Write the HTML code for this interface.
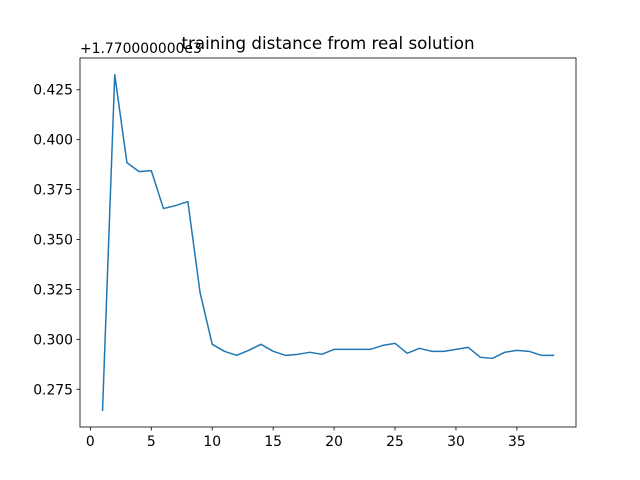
<!DOCTYPE html>
<html><head><meta charset="utf-8"><style>
body{margin:0;background:#fff;}
svg{display:block;font-family:"DejaVu Sans","Liberation Sans",sans-serif;}
</style></head><body>
<svg id="c" width="640" height="480"></svg>
<script>
const xs = [1,2,3,4,5,6,7,8,9,10,11,12,13,14,15,16,17,18,19,20,21,22,23,24,25,26,27,28,29,30,31,32,33,34,35,36,37,38];
const ys = [0.2645,0.4325,0.3885,0.384,0.3845,0.3655,0.367,0.369,0.3235,0.2975,0.294,0.292,0.2945,0.2975,0.294,0.292,0.2925,0.2935,0.2925,0.295,0.295,0.295,0.295,0.297,0.298,0.293,0.2955,0.294,0.294,0.295,0.296,0.291,0.2905,0.2935,0.2945,0.294,0.292,0.292];
const xTicks = [0,5,10,15,20,25,30,35];
const yTicks = [0.275,0.300,0.325,0.350,0.375,0.400,0.425];
const yTickLabels = ["0.275","0.300","0.325","0.350","0.375","0.400","0.425"];

const NS="http://www.w3.org/2000/svg";
const svg=document.getElementById('c');
const L=80,R=576,T=58,B=427;
const xmin=Math.min(...xs),xmax=Math.max(...xs),xp=(xmax-xmin)*0.05;
const ymin=Math.min(...ys),ymax=Math.max(...ys),yp=(ymax-ymin)*0.05;
const X=v=>L+(v-(xmin-xp))/((xmax+xp)-(xmin-xp))*(R-L);
const Y=v=>B-(v-(ymin-yp))/((ymax+yp)-(ymin-yp))*(B-T);
function el(t,a,txt){const e=document.createElementNS(NS,t);for(const k in a)e.setAttribute(k,a[k]);if(txt!==undefined)e.textContent=txt;svg.appendChild(e);return e;}

xTicks.forEach(t=>{const x=X(t);
 const l=el('line',{x1:x,x2:x,y1:B,y2:B+3.5,stroke:'#000','stroke-width':0.8});
 
 
 const s=el('text',{x:x,y:B+19,'font-size':13.9,'text-anchor':'middle',fill:'#000'},String(t));
 
 
});
yTicks.forEach((t,i)=>{const y=Y(t);
 const l=el('line',{x1:L-3.5,x2:L,y1:y,y2:y,stroke:'#000','stroke-width':0.8});
 
 
 const s=el('text',{x:L-7,y:y+5,'font-size':13.9,'text-anchor':'end',fill:'#000'},yTickLabels[i]);
 
 
});
const p=el('polyline',{points:xs.map((x,i)=>X(x)+','+Y(ys[i])).join(' '),fill:'none',stroke:'#1f77b4','stroke-width':1.5,'stroke-linejoin':'round','stroke-linecap':'square'});


const f=el('rect',{x:L,y:T,width:R-L,height:B-T,fill:'none',stroke:'#000','stroke-width':0.8});


const o=el('text',{x:L,y:T-5,'font-size':13.9,fill:'#000'},'+1.770000000e3');


const ti=el('text',{x:(L+R)/2,y:T-9,'font-size':16.7,'text-anchor':'middle',fill:'#000'},'training distance from real solution');


</script>
</body></html>
